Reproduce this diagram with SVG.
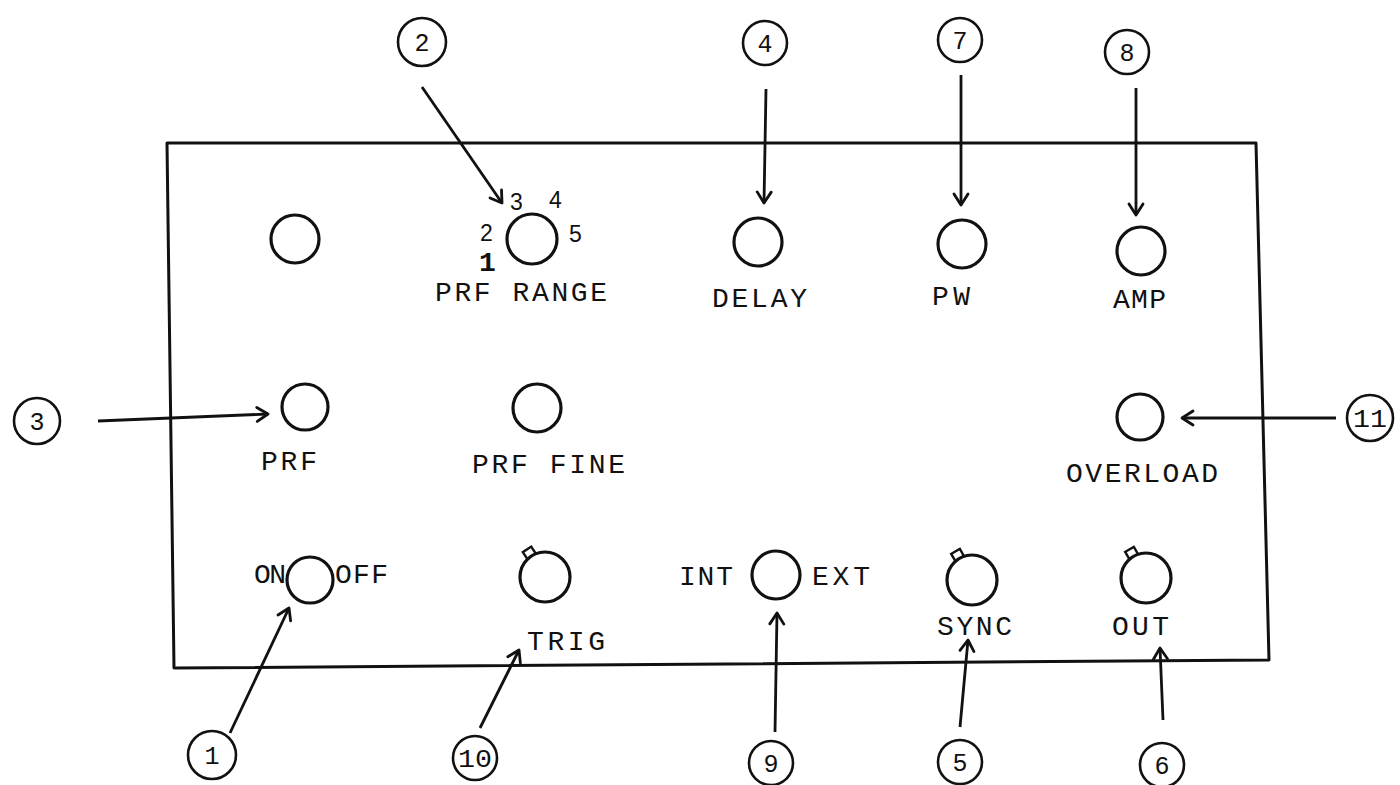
<svg xmlns="http://www.w3.org/2000/svg" width="1400" height="785" viewBox="0 0 1400 785">
<style>
.line{stroke:#111;stroke-width:3;fill:none;stroke-linecap:round;stroke-linejoin:round}
.knob{stroke:#111;stroke-width:3.2;fill:#fff}
.callout{stroke:#111;stroke-width:2.6;fill:#fff}
.lbl{font-family:"Liberation Mono","DejaVu Sans Mono",monospace;font-size:28px;fill:#111}
.dig{font-family:"Liberation Sans","DejaVu Sans",sans-serif;font-size:23px;fill:#111}
.num{font-family:"Liberation Mono","DejaVu Sans Mono",monospace;font-size:25px;fill:#111;text-anchor:middle}
.arr{stroke:#111;stroke-width:2.8;fill:none;marker-end:url(#ah)}
</style>
<defs>
<marker id="ah" markerUnits="userSpaceOnUse" markerWidth="20" markerHeight="20" viewBox="0 0 20 20" refX="13" refY="10" orient="auto">
<path d="M2,3 L13,10 L2,17" fill="none" stroke="#111" stroke-width="2.8" stroke-linecap="round" stroke-linejoin="round"/>
</marker>
<g id="tab"><rect x="-5" y="-33" width="10" height="9" fill="#fff" stroke="#111" stroke-width="2.4"/></g>
</defs>
<rect width="1400" height="785" fill="#fff"/>

<g id="panel">
<path class="line" d="M167,143 L1256,143 L1269,660 L174,668 Z"/>
</g>

<g id="connectors">
<line class="arr" x1="230" y1="733" x2="289" y2="608"/>
<line class="arr" x1="422" y1="87" x2="502" y2="203"/>
<line class="arr" x1="98" y1="421" x2="268" y2="414"/>
<line class="arr" x1="766" y1="89" x2="764" y2="203"/>
<line class="arr" x1="960" y1="727" x2="968" y2="640"/>
<line class="arr" x1="1163" y1="720" x2="1160" y2="648"/>
<line class="arr" x1="961" y1="75" x2="961" y2="205"/>
<line class="arr" x1="1136" y1="88" x2="1136" y2="215"/>
<line class="arr" x1="775" y1="732" x2="777" y2="613"/>
<line class="arr" x1="480" y1="728" x2="519" y2="650"/>
<line class="arr" x1="1336" y1="418" x2="1182" y2="418"/>
</g>

<g id="knob-blank"><circle class="knob" cx="295" cy="239" r="24"/></g>

<g id="knob-prf-range">
<circle class="knob" cx="532" cy="239" r="25"/>
<text class="dig" x="510" y="210">3</text>
<text class="dig" x="549" y="208">4</text>
<text class="dig" x="569" y="242">5</text>
<text class="dig" x="480" y="241" font-size="19">2</text>
<text class="lbl" x="479" y="271" font-size="19" font-weight="bold">1</text>
<text class="lbl" x="435" y="301" textLength="172" lengthAdjust="spacing">PRF RANGE</text>
</g>

<g id="knob-delay">
<circle class="knob" cx="758" cy="242" r="24"/>
<text class="lbl" x="712" y="307" textLength="95" lengthAdjust="spacing">DELAY</text>
</g>

<g id="knob-pw">
<circle class="knob" cx="962" cy="244" r="24"/>
<text class="lbl" x="932" y="305" textLength="38" lengthAdjust="spacing">PW</text>
</g>

<g id="knob-amp">
<circle class="knob" cx="1141" cy="251" r="24"/>
<text class="lbl" x="1113" y="308" textLength="53" lengthAdjust="spacing">AMP</text>
</g>

<g id="knob-prf">
<circle class="knob" cx="305" cy="407" r="23"/>
<text class="lbl" x="261" y="470" textLength="56" lengthAdjust="spacing">PRF</text>
</g>

<g id="knob-prf-fine">
<circle class="knob" cx="537" cy="408" r="24"/>
<text class="lbl" x="472" y="473" textLength="153" lengthAdjust="spacing">PRF FINE</text>
</g>

<g id="knob-overload">
<circle class="knob" cx="1140" cy="417" r="23"/>
<text class="lbl" x="1066" y="482" textLength="152" lengthAdjust="spacing">OVERLOAD</text>
</g>

<g id="switch-onoff">
<text class="lbl" x="254" y="583" textLength="32" lengthAdjust="spacing">ON</text>
<text class="lbl" x="335" y="583" textLength="53" lengthAdjust="spacing">OFF</text>
<circle class="knob" cx="310" cy="580" r="23"/>
</g>

<g id="knob-trig">
<use href="#tab" transform="translate(545,577) rotate(-33)"/>
<circle class="knob" cx="545" cy="577" r="25"/>
<text class="lbl" x="527" y="650" textLength="78" lengthAdjust="spacing">TRIG</text>
</g>

<g id="switch-intext">
<text class="lbl" x="679" y="585" textLength="54" lengthAdjust="spacing">INT</text>
<circle class="knob" cx="776" cy="575" r="24"/>
<text class="lbl" x="812" y="585" textLength="58" lengthAdjust="spacing">EXT</text>
</g>

<g id="knob-sync">
<use href="#tab" transform="translate(972,580) rotate(-30)"/>
<circle class="knob" cx="972" cy="580" r="25"/>
<text class="lbl" x="937" y="635" textLength="75" lengthAdjust="spacing">SYNC</text>
</g>

<g id="knob-out">
<use href="#tab" transform="translate(1146,578) rotate(-30)"/>
<circle class="knob" cx="1146" cy="578" r="25"/>
<text class="lbl" x="1112" y="635" textLength="57" lengthAdjust="spacing">OUT</text>
</g>

<g id="callout-1"><circle class="callout" cx="212" cy="755" r="24"/><text class="num" x="212" y="764">1</text></g>
<g id="callout-2"><circle class="callout" cx="422" cy="42" r="24"/><text class="num" x="422" y="51">2</text></g>
<g id="callout-3"><circle class="callout" cx="37" cy="421" r="23"/><text class="num" x="37" y="430">3</text></g>
<g id="callout-4"><circle class="callout" cx="765" cy="43" r="22"/><text class="num" x="765" y="52">4</text></g>
<g id="callout-5"><circle class="callout" cx="960" cy="762" r="22"/><text class="num" x="960" y="771">5</text></g>
<g id="callout-6"><circle class="callout" cx="1162" cy="765" r="22"/><text class="num" x="1162" y="774">6</text></g>
<g id="callout-7"><circle class="callout" cx="960" cy="40" r="22"/><text class="num" x="960" y="49">7</text></g>
<g id="callout-8"><circle class="callout" cx="1127" cy="52" r="22"/><text class="num" x="1127" y="61">8</text></g>
<g id="callout-9"><circle class="callout" cx="771" cy="763" r="22"/><text class="num" x="771" y="772">9</text></g>
<g id="callout-10"><circle class="callout" cx="475" cy="758" r="22"/><text class="num" x="475" y="767" textLength="34" lengthAdjust="spacingAndGlyphs">10</text></g>
<g id="callout-11"><circle class="callout" cx="1370" cy="418" r="23"/><text class="num" x="1370" y="427" textLength="34" lengthAdjust="spacingAndGlyphs">11</text></g>
</svg>
